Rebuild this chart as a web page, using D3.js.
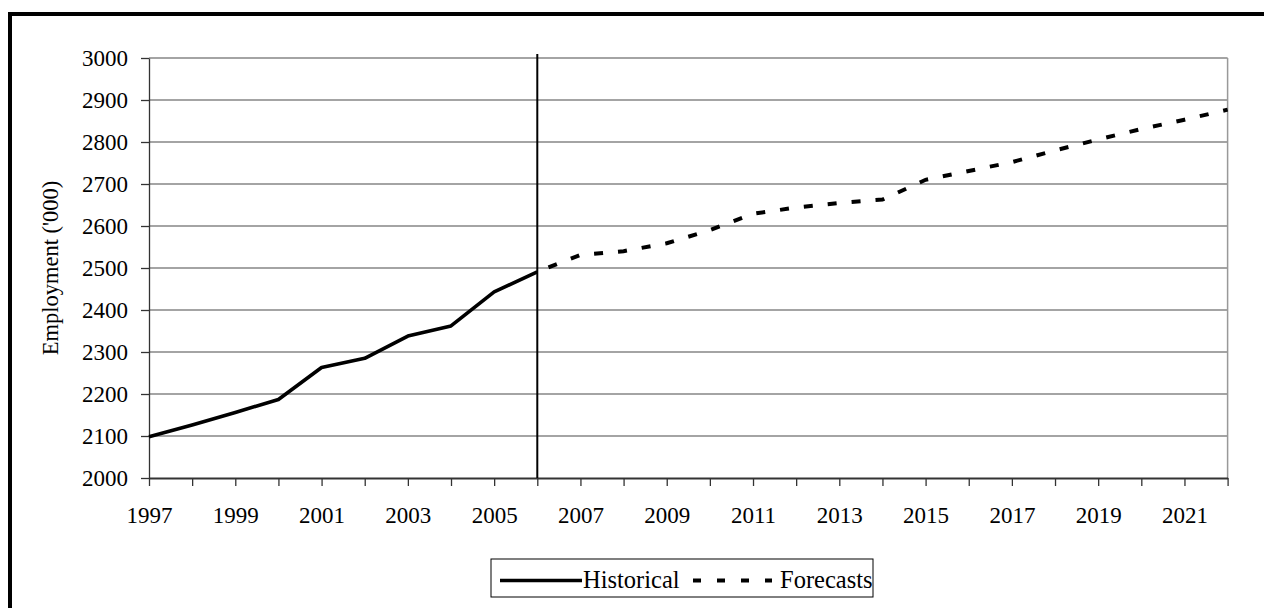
<!DOCTYPE html>
<html>
<head>
<meta charset="utf-8">
<script src="https://cdn.jsdelivr.net/npm/d3@7"></script>
<style>
  html, body { margin: 0; padding: 0; background: #fff; }
  svg { display: block; }
  text { font-family: "Liberation Serif", "Times New Roman", serif; fill: #000; }
</style>
</head>
<body>
<svg id="chart" width="1264" height="608"></svg>
<script>
// ---- Data ----
const histYears = [1997, 1998, 1999, 2000, 2001, 2002, 2003, 2004, 2005, 2006];
const historical = [2098, 2126, 2156, 2187, 2263, 2285, 2338, 2362, 2443, 2491];
const foreYears = [2006, 2007, 2008, 2009, 2010, 2011, 2012, 2013, 2014, 2015, 2016, 2017, 2018, 2019, 2020, 2021, 2022];
const forecasts = [2491, 2531, 2540, 2559, 2590, 2629, 2644, 2655, 2663, 2710, 2731, 2752, 2780, 2806, 2831, 2853, 2877];
const xTickLabels = [1997, 1999, 2001, 2003, 2005, 2007, 2009, 2011, 2013, 2015, 2017, 2019, 2021];
const yTicks = [2000, 2100, 2200, 2300, 2400, 2500, 2600, 2700, 2800, 2900, 3000];
const dividerYear = 2006;
const yTitle = "Employment ('000)";
const legendLabels = ["Historical", "Forecasts"];

(function () {
// ---- Layout ----
const svg = d3.select("#chart");
const pLeft = 149, pRight = 1227.6, pTop = 58, pBottom = 478;
const x = d3.scaleLinear().domain([1997, 2022]).range([pLeft, pRight]);
const y = d3.scaleLinear().domain([2000, 3000]).range([pBottom, pTop]);

// outer frame (extends beyond canvas right/bottom)
svg.append("rect").attr("x", 10).attr("y", 14).attr("width", 1400).attr("height", 800)
  .attr("fill", "none").attr("stroke", "#000").attr("stroke-width", 4);

// gridlines
svg.append("g").selectAll("line").data(yTicks.filter(d => d > 2000)).join("line")
  .attr("x1", pLeft).attr("x2", pRight)
  .attr("y1", d => y(d)).attr("y2", d => y(d))
  .attr("stroke", "#868686").attr("stroke-width", 1.3);

// right plot border
svg.append("line").attr("x1", pRight).attr("x2", pRight).attr("y1", pTop).attr("y2", pBottom)
  .attr("stroke", "#999").attr("stroke-width", 1.5);

// y axis
const yAxis = svg.append("g").attr("transform", `translate(${pLeft},0)`)
  .call(d3.axisLeft(y).tickValues(yTicks).tickSize(8).tickSizeOuter(0).tickPadding(13).tickFormat(d3.format("d")));
yAxis.select(".domain").attr("stroke", "#333").attr("stroke-width", 1.3);
yAxis.selectAll(".tick line").attr("stroke", "#333").attr("stroke-width", 1.3);
yAxis.selectAll(".tick text").attr("font-size", 23).attr("font-family", "Liberation Serif, serif").attr("dy", "0.34em");

// x axis
const allYears = d3.range(1997, 2023);
const xAxis = svg.append("g").attr("transform", `translate(0,${pBottom})`)
  .call(d3.axisBottom(x).tickValues(allYears).tickSize(8).tickSizeOuter(0)
    .tickFormat(d => xTickLabels.includes(d) ? String(d) : ""));
xAxis.select(".domain").attr("stroke", "#333").attr("stroke-width", 2);
xAxis.selectAll(".tick line").attr("stroke", "#333").attr("stroke-width", 1.3);
xAxis.selectAll(".tick text").attr("font-size", 23).attr("font-family", "Liberation Serif, serif")
  .attr("y", 0).attr("dy", 0).attr("transform", "translate(0,44.5)");

// y title
svg.append("text")
  .attr("transform", `translate(58,${(pTop + pBottom) / 2}) rotate(-90)`)
  .attr("text-anchor", "middle").attr("font-size", 22.5)
  .text(yTitle);

// divider line
svg.append("line").attr("x1", x(dividerYear)).attr("x2", x(dividerYear))
  .attr("y1", 54).attr("y2", pBottom)
  .attr("stroke", "#000").attr("stroke-width", 2);

// lines
const line = d3.line().x(d => x(d[0])).y(d => y(d[1]));
svg.append("path").datum(histYears.map((yr, i) => [yr, historical[i]]))
  .attr("d", line).attr("fill", "none").attr("stroke", "#000").attr("stroke-width", 3.6)
  .attr("stroke-linejoin", "round");
svg.append("path").datum(foreYears.map((yr, i) => [yr, forecasts[i]]))
  .attr("d", line).attr("fill", "none").attr("stroke", "#000").attr("stroke-width", 4)
  .attr("stroke-dasharray", "9,15").attr("stroke-dashoffset", 12);

// legend
const lg = svg.append("g");
lg.append("rect").attr("x", 491).attr("y", 559).attr("width", 382).attr("height", 38)
  .attr("fill", "#fff").attr("stroke", "#000").attr("stroke-width", 1);
lg.append("line").attr("x1", 500).attr("x2", 582).attr("y1", 580.5).attr("y2", 580.5)
  .attr("stroke", "#000").attr("stroke-width", 3.6);
lg.append("text").attr("x", 583).attr("y", 588).attr("font-size", 24.5).text(legendLabels[0]);
lg.append("line").attr("x1", 693).attr("x2", 772).attr("y1", 580.5).attr("y2", 580.5)
  .attr("stroke", "#000").attr("stroke-width", 4).attr("stroke-dasharray", "8,16");
lg.append("text").attr("x", 780).attr("y", 588).attr("font-size", 24.5).text(legendLabels[1]);
})();
</script>
</body>
</html>
